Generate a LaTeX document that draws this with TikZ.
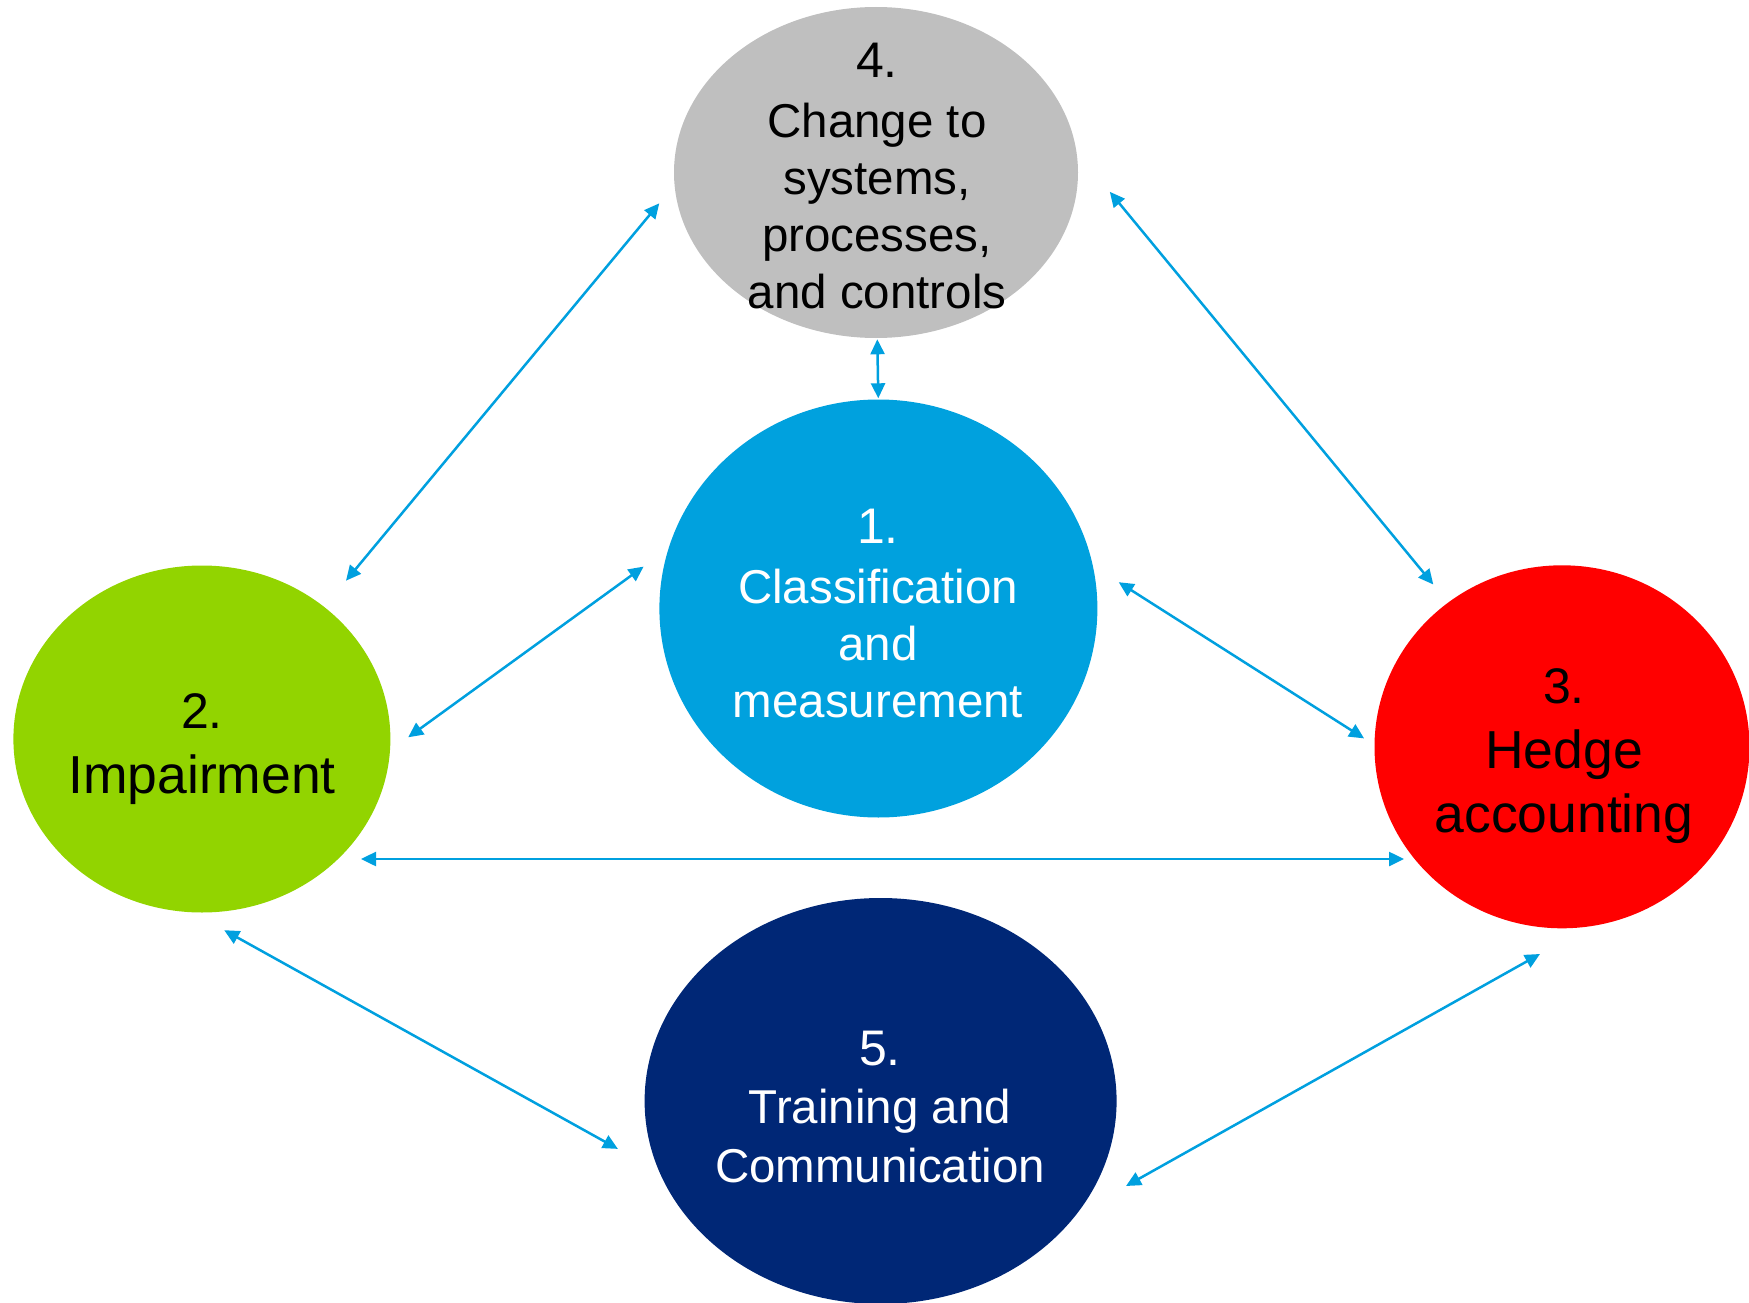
\documentclass[tikz,border=0pt]{standalone}
\usepackage{fontspec}
\setmainfont{Liberation Sans}
\usetikzlibrary{shapes.geometric,arrows.meta}
\definecolor{cgray}{HTML}{BFBFBF}
\definecolor{cblue}{HTML}{00A1DE}
\definecolor{cgreen}{HTML}{92D400}
\definecolor{cred}{HTML}{FF0000}
\definecolor{cnavy}{HTML}{002776}
\definecolor{carrow}{HTML}{00A0DF}
\tikzset{
  blob/.style={ellipse, inner sep=0pt, draw=none},
  numtxt/.style={anchor=base, font=\fontsize{50}{60}\selectfont},
  smalltxt/.style={anchor=base, align=center, font=\fontsize{47.5}{57}\selectfont},
  bigtxt/.style={anchor=base, align=center, font=\fontsize{53.5}{64}\selectfont},
  link/.style={draw=carrow, line width=2.5pt, {Triangle[length=15pt,width=14pt]}-{Triangle[length=15pt,width=14pt]}}
}
\begin{document}
\begin{tikzpicture}[x=1pt,y=-1pt]
\useasboundingbox (0,0) rectangle (1749,1303);
% ellipses
\node[blob, fill=cgray, minimum width=404pt, minimum height=331pt] (n4) at (876,172.5) {};
\node[blob, fill=cblue, minimum width=438pt, minimum height=418pt] (n1) at (878.4,608.5) {};
\node[blob, fill=cgreen, minimum width=377pt, minimum height=347pt] (n2) at (201.9,739) {};
\node[blob, fill=cred, minimum width=375pt, minimum height=363pt] (n3) at (1562,746.8) {};
\node[blob, fill=cnavy, minimum width=472pt, minimum height=406pt] (n5) at (880.6,1101) {};
% texts (anchor base = baseline of the last line)
\node[numtxt] (t4n) at (877,78) {4.};
\node[smalltxt] (t4) at (877,308) {Change to\\systems,\\processes,\\and controls};
\node[numtxt, text=white] (t1n) at (878,543) {1.};
\node[smalltxt, text=white] (t1) at (878,717) {Classification\\and\\measurement};
\node[numtxt] (t2n) at (202,728) {2.};
\node[bigtxt] (t2) at (202,793) {Impairment};
\node[numtxt] (t3n) at (1564,703) {3.};
\node[bigtxt] (t3) at (1564,832) {Hedge\\accounting};
\node[numtxt, text=white] (t5n) at (880,1065) {5.};
\node[smalltxt, text=white, font=\fontsize{47.5}{58.5}\selectfont] (t5) at (880,1182) {Training and\\Communication};
% connector ends
\coordinate (a42s) at (659.3,203.3);
\coordinate (a42e) at (346,580.7);
\coordinate (a43s) at (1109.8,191.8);
\coordinate (a43e) at (1433.3,584.5);
\coordinate (a41s) at (877.3,339.3);
\coordinate (a41e) at (878.3,398.3);
\coordinate (a12s) at (643.6,566.6);
\coordinate (a12e) at (408.2,737.3);
\coordinate (a13s) at (1118.7,582.2);
\coordinate (a13e) at (1364.1,738.4);
\coordinate (a23s) at (361,859);
\coordinate (a23e) at (1404,859);
\coordinate (a25s) at (224.2,930.2);
\coordinate (a25e) at (617.9,1148.9);
\coordinate (a53s) at (1126,1186);
\coordinate (a53e) at (1540,954);
% connectors
\draw[link] (a42s) -- (a42e);
\draw[link] (a43s) -- (a43e);
\draw[link] (a41s) -- (a41e);
\draw[link] (a12s) -- (a12e);
\draw[link] (a13s) -- (a13e);
\draw[link] (a23s) -- (a23e);
\draw[link] (a25s) -- (a25e);
\draw[link] (a53s) -- (a53e);
\end{tikzpicture}
\end{document}
